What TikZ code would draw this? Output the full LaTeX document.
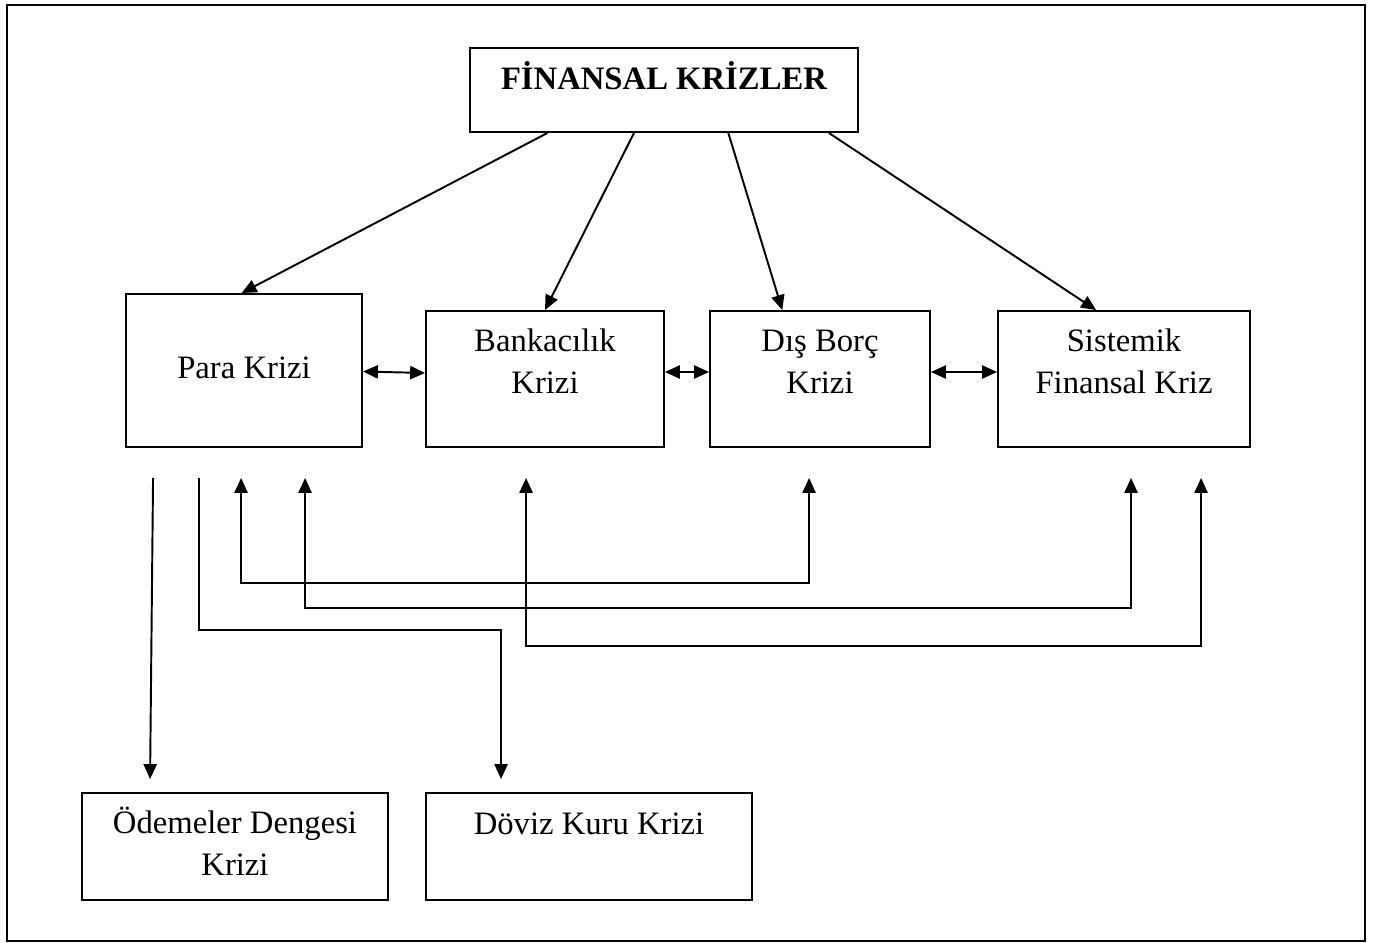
\documentclass[tikz,border=0pt]{standalone}
\usepackage{fontspec}
\setmainfont{Liberation Serif}
\usetikzlibrary{arrows.meta,calc}
\begin{document}
\begin{tikzpicture}[x=0.02cm,y=-0.02cm,
  box/.style={draw,line width=1.1pt,inner sep=0pt,rectangle},
  lbl/.style={inner sep=0pt,align=center,anchor=base,font=\fontsize{18.6}{23.8}\selectfont},
  conn/.style={line width=1.1pt,-{Triangle[length=8.5pt,width=7.5pt]}},
  dconn/.style={line width=1.1pt,{Triangle[length=8.5pt,width=7.5pt]}-{Triangle[length=8.5pt,width=7.5pt]}}]
\useasboundingbox (0,0) rectangle (1373,943);
\node[box,minimum width=27.16cm,minimum height=18.72cm] (frame) at (686,473) {};
% boxes
\node[box,minimum width=7.76cm,minimum height=1.68cm] (title) at (664,90) {};
\node[box,minimum width=4.72cm,minimum height=3.06cm] (para) at (244,370.5) {};
\node[box,minimum width=4.76cm,minimum height=2.72cm] (bank) at (545,379) {};
\node[box,minimum width=4.40cm,minimum height=2.72cm] (dis) at (820,379) {};
\node[box,minimum width=5.04cm,minimum height=2.72cm] (sis) at (1124,379) {};
\node[box,minimum width=6.12cm,minimum height=2.14cm] (odeme) at (235,846.5) {};
\node[box,minimum width=6.52cm,minimum height=2.14cm] (doviz) at (589,846.5) {};
% labels (base anchor = last line baseline)
\node[lbl,font=\fontsize{18.6}{23.8}\selectfont\bfseries] (ttitle) at (664,89) {FİNANSAL KRİZLER};
\node[lbl] (tpara) at (244,378) {Para Krizi};
\node[lbl] (tbank) at (545,393) {Bankacılık\\Krizi};
\node[lbl] (tdis) at (820,393) {Dış Borç\\Krizi};
\node[lbl] (tsis) at (1124,393) {Sistemik\\Finansal Kriz};
\node[lbl] (todeme) at (235,875) {Ödemeler Dengesi\\Krizi};
\node[lbl] (tdoviz) at (589,834) {Döviz Kuru Krizi};
% top arrows
\draw[conn] ($(title.south west)!0.201!(title.south east)$) -- ($(para.north west)!0.49!(para.north east)$);
\draw[conn] ($(title.south west)!0.423!(title.south east)$) -- (bank.north);
\draw[conn] ($(title.south west)!0.665!(title.south east)$) -- ($(dis.north west)!0.33!(dis.north east)$);
\draw[conn] ($(title.south west)!0.923!(title.south east)$) -- ($(sis.north west)!0.39!(sis.north east)$);
% horizontal double arrows
\draw[dconn] ([yshift=-0.02cm]para.east) -- ([yshift=0.12cm]bank.west);
\draw[dconn] ([yshift=0.14cm]bank.east) -- ([yshift=0.14cm]dis.west);
\draw[dconn] ([yshift=0.14cm]dis.east) -- ([yshift=0.14cm]sis.west);
% lower connectors
\draw[conn] ($(para.south west)+(28,30)$) -- ($(odeme.north west)+(69,-13)$);
\draw[conn] ($(para.south west)+(74,30)$) -- ++(0,152) -| ($(doviz.north west)+(76,-13)$);
\draw[dconn] ($(para.south west)+(116,30)$) -- ++(0,105) -| ($(dis.south west)+(100,30)$);
\draw[dconn] ($(para.south west)+(180,30)$) -- ++(0,130) -| ($(sis.south west)+(134,30)$);
\draw[dconn] ($(bank.south west)+(101,30)$) -- ++(0,168) -| ($(sis.south west)+(204,30)$);
\end{tikzpicture}
\end{document}
